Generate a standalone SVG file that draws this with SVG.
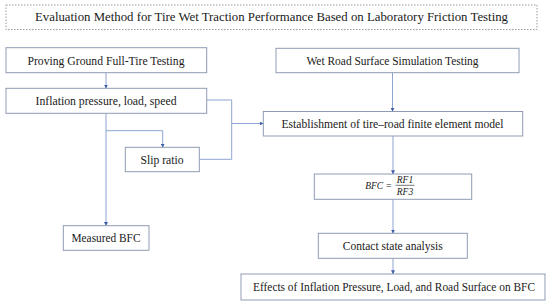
<svg xmlns="http://www.w3.org/2000/svg" width="550" height="306" viewBox="0 0 550 306">
<style>
.box{fill:#fff;stroke:#8f9bb3;stroke-width:1}
.t{font-family:"Liberation Serif","Times New Roman",serif;font-size:12px;fill:#1a1a1a;text-anchor:middle}
.m{font-family:"Liberation Serif","Times New Roman",serif;font-style:italic;font-size:9.5px;fill:#1a1a1a;text-anchor:middle}
.c{fill:none;stroke:#8ea4d2;stroke-width:1}
</style>
<defs>
<marker id="ah" viewBox="0 0 6 6" refX="5.5" refY="3" markerWidth="4" markerHeight="4" orient="auto" markerUnits="userSpaceOnUse">
<path d="M0,0 L6,3 L0,6 z" fill="#3f5fa8"/>
</marker>
</defs>
<rect width="550" height="306" fill="#fff"/>
<g id="title">
<rect x="6" y="5" width="531" height="24.5" fill="#fff" stroke="#9a9a9a" stroke-width="1" stroke-dasharray="1.5,1.5"/>
<text class="t" x="271.5" y="21" textLength="473" lengthAdjust="spacingAndGlyphs">Evaluation Method for Tire Wet Traction Performance Based on Laboratory Friction Testing</text>
</g>
<g id="connectors">
<path class="c" d="M106,72.7 V88.3" marker-end="url(#ah)"/>
<path class="c" d="M392.5,72.7 V111.5" marker-end="url(#ah)"/>
<path class="c" d="M206.7,100 H231.7 V159.3 H199.3"/>
<path class="c" d="M231.7,123.5 H263.3" marker-end="url(#ah)"/>
<path class="c" d="M106,113.3 V225.7" marker-end="url(#ah)"/>
<path class="c" d="M106,130.7 H162.7 V147.3" marker-end="url(#ah)"/>
<path class="c" d="M393,136 V174" marker-end="url(#ah)"/>
<path class="c" d="M393,199.3 V233.3" marker-end="url(#ah)"/>
<path class="c" d="M393,258.3 V274" marker-end="url(#ah)"/>
</g>
<g id="proving">
<rect class="box" x="6" y="47.7" width="200.7" height="25"/>
<text class="t" x="106" y="65" textLength="157" lengthAdjust="spacingAndGlyphs">Proving Ground Full-Tire Testing</text>
</g>
<g id="wetroad">
<rect class="box" x="276" y="48.3" width="243" height="24.4"/>
<text class="t" x="392.5" y="65" textLength="172" lengthAdjust="spacingAndGlyphs">Wet Road Surface Simulation Testing</text>
</g>
<g id="inflation">
<rect class="box" x="6" y="88.3" width="200.7" height="25"/>
<text class="t" x="106" y="104.5" textLength="141" lengthAdjust="spacingAndGlyphs">Inflation pressure, load, speed</text>
</g>
<g id="establishment">
<rect class="box" x="263.3" y="111.5" width="259.4" height="24.5"/>
<text class="t" x="392.5" y="128" textLength="222" lengthAdjust="spacingAndGlyphs">Establishment of tire–road finite element model</text>
</g>
<g id="slip">
<rect class="box" x="125.3" y="147.3" width="74" height="24.4"/>
<text class="t" x="162" y="163.5" textLength="43" lengthAdjust="spacingAndGlyphs">Slip ratio</text>
</g>
<g id="bfc">
<rect class="box" x="314.3" y="174" width="157.4" height="25.3"/>
<text class="m" x="378.5" y="189">BFC =</text>
<text class="m" x="405" y="182.5">RF1</text>
<line x1="395.5" y1="185.3" x2="414.5" y2="185.3" stroke="#1a1a1a" stroke-width="0.6"/>
<text class="m" x="405" y="194.5">RF3</text>
</g>
<g id="measured">
<rect class="box" x="63.3" y="225.7" width="85.7" height="24.6"/>
<text class="t" x="106" y="241.8" textLength="69" lengthAdjust="spacingAndGlyphs">Measured BFC</text>
</g>
<g id="contact">
<rect class="box" x="318.3" y="233.3" width="149" height="25"/>
<text class="t" x="392.8" y="250" textLength="100" lengthAdjust="spacingAndGlyphs">Contact state analysis</text>
</g>
<g id="effects">
<rect class="box" x="241" y="274" width="304" height="26"/>
<text class="t" x="394" y="291" textLength="282" lengthAdjust="spacingAndGlyphs">Effects of Inflation Pressure, Load, and Road Surface on BFC</text>
</g>
</svg>
